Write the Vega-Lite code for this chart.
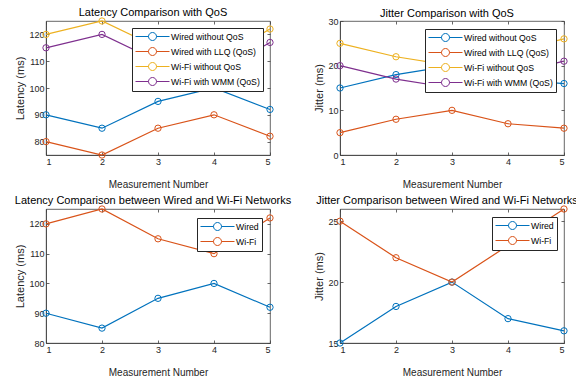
{
  "$schema": "https://vega.github.io/schema/vega-lite/v6.json",
  "background": "white",
  "padding": {"left": 14, "top": 6, "right": 0, "bottom": 0},
  "datasets": {
    "latq": [
      {"series": "Wired without QoS", "x": 1, "y": 90},
      {"series": "Wired without QoS", "x": 2, "y": 85},
      {"series": "Wired without QoS", "x": 3, "y": 95},
      {"series": "Wired without QoS", "x": 4, "y": 100},
      {"series": "Wired without QoS", "x": 5, "y": 92},
      {"series": "Wired with LLQ (QoS)", "x": 1, "y": 80},
      {"series": "Wired with LLQ (QoS)", "x": 2, "y": 75},
      {"series": "Wired with LLQ (QoS)", "x": 3, "y": 85},
      {"series": "Wired with LLQ (QoS)", "x": 4, "y": 90},
      {"series": "Wired with LLQ (QoS)", "x": 5, "y": 82},
      {"series": "Wi-Fi without QoS", "x": 1, "y": 120},
      {"series": "Wi-Fi without QoS", "x": 2, "y": 125},
      {"series": "Wi-Fi without QoS", "x": 3, "y": 115},
      {"series": "Wi-Fi without QoS", "x": 4, "y": 110},
      {"series": "Wi-Fi without QoS", "x": 5, "y": 122},
      {"series": "Wi-Fi with WMM (QoS)", "x": 1, "y": 115},
      {"series": "Wi-Fi with WMM (QoS)", "x": 2, "y": 120},
      {"series": "Wi-Fi with WMM (QoS)", "x": 3, "y": 110},
      {"series": "Wi-Fi with WMM (QoS)", "x": 4, "y": 105},
      {"series": "Wi-Fi with WMM (QoS)", "x": 5, "y": 117}
    ],
    "jitq": [
      {"series": "Wired without QoS", "x": 1, "y": 15},
      {"series": "Wired without QoS", "x": 2, "y": 18},
      {"series": "Wired without QoS", "x": 3, "y": 20},
      {"series": "Wired without QoS", "x": 4, "y": 17},
      {"series": "Wired without QoS", "x": 5, "y": 16},
      {"series": "Wired with LLQ (QoS)", "x": 1, "y": 5},
      {"series": "Wired with LLQ (QoS)", "x": 2, "y": 8},
      {"series": "Wired with LLQ (QoS)", "x": 3, "y": 10},
      {"series": "Wired with LLQ (QoS)", "x": 4, "y": 7},
      {"series": "Wired with LLQ (QoS)", "x": 5, "y": 6},
      {"series": "Wi-Fi without QoS", "x": 1, "y": 25},
      {"series": "Wi-Fi without QoS", "x": 2, "y": 22},
      {"series": "Wi-Fi without QoS", "x": 3, "y": 20},
      {"series": "Wi-Fi without QoS", "x": 4, "y": 23},
      {"series": "Wi-Fi without QoS", "x": 5, "y": 26},
      {"series": "Wi-Fi with WMM (QoS)", "x": 1, "y": 20},
      {"series": "Wi-Fi with WMM (QoS)", "x": 2, "y": 17},
      {"series": "Wi-Fi with WMM (QoS)", "x": 3, "y": 15},
      {"series": "Wi-Fi with WMM (QoS)", "x": 4, "y": 18},
      {"series": "Wi-Fi with WMM (QoS)", "x": 5, "y": 21}
    ],
    "lat": [
      {"series": "Wired", "x": 1, "y": 90},
      {"series": "Wired", "x": 2, "y": 85},
      {"series": "Wired", "x": 3, "y": 95},
      {"series": "Wired", "x": 4, "y": 100},
      {"series": "Wired", "x": 5, "y": 92},
      {"series": "Wi-Fi", "x": 1, "y": 120},
      {"series": "Wi-Fi", "x": 2, "y": 125},
      {"series": "Wi-Fi", "x": 3, "y": 115},
      {"series": "Wi-Fi", "x": 4, "y": 110},
      {"series": "Wi-Fi", "x": 5, "y": 122}
    ],
    "jit": [
      {"series": "Wired", "x": 1, "y": 15},
      {"series": "Wired", "x": 2, "y": 18},
      {"series": "Wired", "x": 3, "y": 20},
      {"series": "Wired", "x": 4, "y": 17},
      {"series": "Wired", "x": 5, "y": 16},
      {"series": "Wi-Fi", "x": 1, "y": 25},
      {"series": "Wi-Fi", "x": 2, "y": 22},
      {"series": "Wi-Fi", "x": 3, "y": 20},
      {"series": "Wi-Fi", "x": 4, "y": 23},
      {"series": "Wi-Fi", "x": 5, "y": 26}
    ]
  },
  "columns": 2,
  "spacing": {"row": 54, "column": 70},
  "bounds": "flush",
  "resolve": {"scale": {"color": "independent"}, "legend": {"color": "independent"}},
  "concat": [
    {
      "data": {"name": "latq"},
      "width": 224, "height": 134,
      "title": "Latency Comparison with QoS",
      "layer": [
        {
          "mark": {"type": "line", "strokeWidth": 1.2},
          "encoding": {
            "x": {"field": "x", "type": "quantitative", "scale": {"domain": [1, 5], "nice": false}, "axis": {"values": [1, 2, 3, 4, 5], "format": "d", "title": "Measurement Number"}},
            "y": {"field": "y", "type": "quantitative", "scale": {"domain": [75, 125], "nice": false, "zero": false}, "axis": {"values": [80, 90, 100, 110, 120], "title": "Latency (ms)"}},
            "color": {"field": "series", "type": "nominal", "scale": {"domain": ["Wired without QoS", "Wired with LLQ (QoS)", "Wi-Fi without QoS", "Wi-Fi with WMM (QoS)"], "range": ["#0072BD", "#D95319", "#EDB120", "#7E2F8E"]}, "legend": {"title": null, "orient": "none", "legendX": 86, "legendY": 7}}
          }
        },
        {
          "mark": {"type": "point", "filled": false, "size": 40, "strokeWidth": 1, "opacity": 1},
          "encoding": {
            "x": {"field": "x", "type": "quantitative", "axis": {"orient": "top", "labels": false, "title": null, "domain": false, "values": [1, 2, 3, 4, 5]}},
            "y": {"field": "y", "type": "quantitative", "axis": {"orient": "right", "labels": false, "title": null, "domain": false, "values": [80, 90, 100, 110, 120]}},
            "color": {"field": "series", "type": "nominal"}
          }
        }
      ],
      "resolve": {"axis": {"x": "independent", "y": "independent"}}
    },
    {
      "data": {"name": "jitq"},
      "width": 224, "height": 134,
      "title": "Jitter Comparison with QoS",
      "layer": [
        {
          "mark": {"type": "line", "strokeWidth": 1.2},
          "encoding": {
            "x": {"field": "x", "type": "quantitative", "scale": {"domain": [1, 5], "nice": false}, "axis": {"values": [1, 2, 3, 4, 5], "format": "d", "title": "Measurement Number"}},
            "y": {"field": "y", "type": "quantitative", "scale": {"domain": [0, 30], "nice": false}, "axis": {"values": [0, 10, 20, 30], "title": "Jitter (ms)"}},
            "color": {"field": "series", "type": "nominal", "scale": {"domain": ["Wired without QoS", "Wired with LLQ (QoS)", "Wi-Fi without QoS", "Wi-Fi with WMM (QoS)"], "range": ["#0072BD", "#D95319", "#EDB120", "#7E2F8E"]}, "legend": {"title": null, "orient": "none", "legendX": 85, "legendY": 8}}
          }
        },
        {
          "mark": {"type": "point", "filled": false, "size": 40, "strokeWidth": 1, "opacity": 1},
          "encoding": {
            "x": {"field": "x", "type": "quantitative", "axis": {"orient": "top", "labels": false, "title": null, "domain": false, "values": [1, 2, 3, 4, 5]}},
            "y": {"field": "y", "type": "quantitative", "axis": {"orient": "right", "labels": false, "title": null, "domain": false, "values": [0, 10, 20, 30]}},
            "color": {"field": "series", "type": "nominal"}
          }
        }
      ],
      "resolve": {"axis": {"x": "independent", "y": "independent"}}
    },
    {
      "data": {"name": "lat"},
      "width": 224, "height": 134,
      "title": "Latency Comparison between Wired and Wi-Fi Networks",
      "layer": [
        {
          "mark": {"type": "line", "strokeWidth": 1.2},
          "encoding": {
            "x": {"field": "x", "type": "quantitative", "scale": {"domain": [1, 5], "nice": false}, "axis": {"values": [1, 2, 3, 4, 5], "format": "d", "title": "Measurement Number"}},
            "y": {"field": "y", "type": "quantitative", "scale": {"domain": [80, 125], "nice": false, "zero": false}, "axis": {"values": [80, 90, 100, 110, 120], "title": "Latency (ms)"}},
            "color": {"field": "series", "type": "nominal", "scale": {"domain": ["Wired", "Wi-Fi"], "range": ["#0072BD", "#D95319"]}, "legend": {"title": null, "orient": "none", "legendX": 151, "legendY": 9}}
          }
        },
        {
          "mark": {"type": "point", "filled": false, "size": 40, "strokeWidth": 1, "opacity": 1},
          "encoding": {
            "x": {"field": "x", "type": "quantitative", "axis": {"orient": "top", "labels": false, "title": null, "domain": false, "values": [1, 2, 3, 4, 5]}},
            "y": {"field": "y", "type": "quantitative", "axis": {"orient": "right", "labels": false, "title": null, "domain": false, "values": [80, 90, 100, 110, 120]}},
            "color": {"field": "series", "type": "nominal"}
          }
        }
      ],
      "resolve": {"axis": {"x": "independent", "y": "independent"}}
    },
    {
      "data": {"name": "jit"},
      "width": 224, "height": 134,
      "title": "Jitter Comparison between Wired and Wi-Fi Networks",
      "layer": [
        {
          "mark": {"type": "line", "strokeWidth": 1.2},
          "encoding": {
            "x": {"field": "x", "type": "quantitative", "scale": {"domain": [1, 5], "nice": false}, "axis": {"values": [1, 2, 3, 4, 5], "format": "d", "title": "Measurement Number"}},
            "y": {"field": "y", "type": "quantitative", "scale": {"domain": [15, 26], "nice": false, "zero": false}, "axis": {"values": [15, 20, 25], "title": "Jitter (ms)"}},
            "color": {"field": "series", "type": "nominal", "scale": {"domain": ["Wired", "Wi-Fi"], "range": ["#0072BD", "#D95319"]}, "legend": {"title": null, "orient": "none", "legendX": 152, "legendY": 8}}
          }
        },
        {
          "mark": {"type": "point", "filled": false, "size": 40, "strokeWidth": 1, "opacity": 1},
          "encoding": {
            "x": {"field": "x", "type": "quantitative", "axis": {"orient": "top", "labels": false, "title": null, "domain": false, "values": [1, 2, 3, 4, 5]}},
            "y": {"field": "y", "type": "quantitative", "axis": {"orient": "right", "labels": false, "title": null, "domain": false, "values": [15, 20, 25]}},
            "color": {"field": "series", "type": "nominal"}
          }
        }
      ],
      "resolve": {"axis": {"x": "independent", "y": "independent"}}
    }
  ],
  "config": {
    "font": "Liberation Sans",
    "view": {"stroke": "#404040", "strokeWidth": 0.8},
    "title": {"fontSize": 11, "fontWeight": "normal", "color": "#000000", "offset": -2, "dx": -5, "font": "Liberation Sans"},
    "axis": {
      "grid": false,
      "domainColor": "#404040",
      "domainWidth": 0.8,
      "tickColor": "#404040",
      "tickSize": -3,
      "tickWidth": 0.8,
      "labelColor": "#262626",
      "labelFont": "Liberation Sans",
      "labelFontSize": 9,
      "labelPadding": 5,
      "titleColor": "#262626",
      "titleFont": "Liberation Sans",
      "titleFontWeight": "normal",
      "titleFontSize": 10
    },
    "axisX": {"titlePadding": 13},
    "axisY": {"titleFontSize": 11, "titlePadding": 3},
    "legend": {
      "labelFont": "Liberation Sans",
      "labelFontSize": 8.7,
      "labelColor": "#000000",
      "strokeColor": "#262626",
      "fillColor": "white",
      "padding": 3,
      "rowPadding": 2,
      "symbolType": "M-1,0H1.6M3.2,0H5.8M3.2,0A0.8,0.8 0 1,1 1.6,0A0.8,0.8 0 1,1 3.2,0",
      "symbolSize": 100,
      "symbolStrokeWidth": 1,
      "labelOffset": 25
    }
  }
}
